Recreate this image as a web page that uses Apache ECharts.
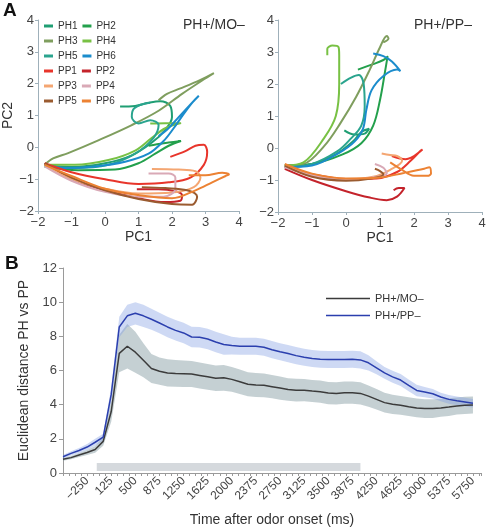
<!DOCTYPE html>
<html><head><meta charset="utf-8">
<script src="https://cdn.jsdelivr.net/npm/echarts@6/dist/echarts.min.js"></script>
<style>html,body{margin:0;padding:0;background:#fff}#c{width:490px;height:528px}</style>
</head><body><div id="c"></div>
<script>
// ---------- Panel A data (PC1, PC2 trajectories) ----------
const TRAJ_NAMES = ['PH1','PH2','PH3','PH4','PH5','PH6','PP1','PP2','PP3','PP4','PP5','PP6'];
const TRAJ_COLORS = ['#1f9e73','#23a04c','#7f9e5e','#78c144','#2aa48e','#1b8ccc','#e8352b','#c4232b','#f4a672','#d9a9b6','#9a5b30','#ec8233'];

// PH+/MO– panel
const MO_PH1 = [[-1.8,-0.55],[-1.0,-0.62],[0,-0.5],[0.8,-0.25],[1.4,0.15],[1.8,0.55],[2.0,0.95],[1.95,1.3],[1.65,1.45],[1.3,1.4],[0.9,1.3],[0.45,1.28]];
const MO_PH2 = [[-1.8,-0.6],[-0.8,-0.72],[0.3,-0.7],[1.0,-0.5],[1.5,-0.2],[1.9,0.05],[2.27,0.2],[1.9,0.15],[1.55,0.1],[1.3,0.05]];
const MO_PH3 = [[-1.8,-0.55],[-1.55,-0.35],[-1.1,-0.18],[-0.2,0.22],[0.8,0.7],[1.6,1.15],[2.3,1.68],[2.9,2.1],[3.25,2.33],[2.85,2.12],[2.25,1.85],[1.85,1.68],[1.6,1.48]];
const MO_PH4 = [[-1.8,-0.55],[-0.9,-0.55],[0.1,-0.4],[0.9,-0.1],[1.4,0.3],[1.8,0.6],[2.27,0.76],[1.8,0.76],[1.35,0.75]];
const MO_PH5 = [[-1.8,-0.6],[-0.9,-0.65],[0.1,-0.55],[0.9,-0.2],[1.45,0.3],[1.6,0.7],[1.35,0.85],[1.0,0.75],[0.8,0.95],[0.85,1.2],[1.1,1.35],[1.35,1.4]];
const MO_PH6 = [[-1.8,-0.55],[-1.2,-0.65],[-0.3,-0.6],[0.6,-0.45],[1.3,-0.2],[1.75,0.2],[2.05,0.6],[2.35,1.05],[2.6,1.4],[2.8,1.62],[2.6,1.4],[2.2,0.95],[1.85,0.55],[1.6,0.35]];
const MO_PP1 = [[-1.8,-0.5],[-1.0,-0.78],[0,-1.0],[1.0,-1.15],[1.9,-1.1],[2.55,-0.95],[2.95,-0.55],[3.05,-0.15],[2.95,0.08],[2.7,0.05],[2.4,-0.12],[1.95,-0.3]];
const MO_PP2 = [[-1.8,-0.5],[-1.0,-1.0],[0,-1.35],[1.0,-1.6],[1.8,-1.72],[2.25,-1.68],[2.3,-1.5],[2.1,-1.38],[1.6,-1.32],[0.95,-1.32]];
const MO_PP3 = [[-1.8,-0.55],[-1.0,-1.0],[0,-1.3],[1.0,-1.45],[2.0,-1.42],[2.65,-1.25],[2.85,-0.95],[2.7,-0.75],[2.2,-0.7],[1.4,-0.68]];
const MO_PP4 = [[-1.8,-0.6],[-1.0,-1.05],[0,-1.4],[1.0,-1.55],[1.75,-1.55],[2.1,-1.3],[2.1,-0.95],[1.9,-0.82],[1.3,-0.82]];
const MO_PP5 = [[-1.8,-0.5],[-1.0,-0.95],[0,-1.35],[1.0,-1.62],[2.0,-1.78],[2.6,-1.8],[2.75,-1.55],[2.45,-1.35],[1.8,-1.28],[1.1,-1.25]];
const MO_PP6 = [[-1.8,-0.55],[-1.0,-0.9],[0,-1.3],[1.0,-1.5],[2.0,-1.6],[2.7,-1.35],[3.2,-1.1],[3.6,-0.9],[3.7,-0.85],[3.5,-0.8],[3.0,-0.88],[2.5,-0.88]];

// PH+/PP– panel
const PP_PH1 = [[-1.8,-0.55],[-1.0,-0.5],[-0.3,-0.2],[0.2,0.2],[0.45,0.5],[0.68,0.6],[0.55,0.45],[0.25,0.42],[-0.05,0.55]];
const PP_PH2 = [[-1.8,-0.55],[-1.0,-0.5],[-0.1,-0.2],[0.45,0.15],[0.8,0.7],[1.0,1.5],[1.15,2.4],[1.22,2.85],[1.1,2.75],[0.8,2.62],[0.35,2.45]];
const PP_PH3 = [[-1.8,-0.55],[-1.25,-0.5],[-0.65,0.05],[-0.15,0.8],[0.3,1.6],[0.7,2.45],[1.0,3.15],[1.2,3.5],[1.25,3.42],[1.1,3.3]];
const PP_PH4 = [[-1.8,-0.55],[-1.25,-0.45],[-0.65,0.3],[-0.3,1.0],[-0.2,2.0],[-0.2,2.9],[-0.22,3.15],[-0.4,3.2],[-0.55,3.1],[-0.55,2.9]];
const PP_PH5 = [[-1.8,-0.6],[-1.0,-0.5],[-0.25,-0.1],[0.15,0.3],[0.45,0.7],[0.55,1.3],[0.52,2.0],[0.38,2.28],[0.15,2.2],[-0.15,2.0]];
const PP_PH6 = [[-1.8,-0.6],[-1.0,-0.55],[-0.2,-0.15],[0.25,0.2],[0.5,0.6],[0.6,1.2],[0.75,1.8],[1.1,2.25],[1.5,2.45],[1.6,2.4],[1.35,2.7],[1.1,2.87],[0.8,2.95]];
const PP_PP1 = [[-1.8,-0.6],[-1.0,-0.82],[0,-0.97],[0.9,-0.95],[1.5,-0.75],[1.9,-0.4],[2.2,-0.08],[2.25,-0.05],[2.0,-0.25],[1.75,-0.35],[1.35,-0.25]];
const PP_PP2 = [[-1.8,-0.65],[-1.0,-1.0],[0,-1.35],[0.7,-1.55],[1.2,-1.63],[1.5,-1.52],[1.72,-1.25],[1.55,-1.25],[1.4,-1.32]];
const PP_PP3 = [[-1.8,-0.55],[-1.0,-0.85],[0,-0.97],[0.8,-0.9],[1.3,-0.68],[1.65,-0.4],[1.5,-0.25],[1.3,-0.22],[1.05,-0.17]];
const PP_PP4 = [[-1.8,-0.6],[-1.0,-0.85],[0,-1.0],[0.8,-0.92],[1.2,-0.8],[1.1,-0.62],[0.85,-0.5]];
const PP_PP5 = [[-1.8,-0.55],[-1.0,-0.9],[0,-1.02],[0.75,-0.95],[1.1,-0.82],[1.0,-0.72],[0.85,-0.65]];
const PP_PP6 = [[-1.8,-0.5],[-1.0,-0.8],[0,-0.95],[1.0,-0.92],[1.7,-0.78],[2.3,-0.65],[2.45,-0.6],[2.5,-0.8],[2.4,-0.87],[2.0,-0.87],[1.6,-0.65],[1.3,-0.45]];

const MO_TRAJ = [MO_PH1,MO_PH2,MO_PH3,MO_PH4,MO_PH5,MO_PH6,MO_PP1,MO_PP2,MO_PP3,MO_PP4,MO_PP5,MO_PP6];
const PP_TRAJ = [PP_PH1,PP_PH2,PP_PH3,PP_PH4,PP_PH5,PP_PH6,PP_PP1,PP_PP2,PP_PP3,PP_PP4,PP_PP5,PP_PP6];

// ---------- Panel B data ----------
const TIME_MS = [-625,-500,-375,-250,-125,0,125,250,375,500,625,750,875,1000,1125,1250,1375,1500,1625,1750,1875,2000,2125,2250,2375,2500,2625,2750,2875,3000,3125,3250,3375,3500,3625,3750,3875,4000,4125,4250,4375,4500,4625,4750,4875,5000,5125,5250,5375,5500,5625,5750];
const MO_MEAN = [0.8,0.9,1.05,1.2,1.38,1.85,3.6,7.0,7.42,7.07,6.6,6.12,5.96,5.86,5.83,5.81,5.79,5.71,5.63,5.55,5.57,5.48,5.34,5.2,5.15,5.13,5.05,4.97,4.89,4.85,4.85,4.8,4.76,4.68,4.66,4.7,4.7,4.66,4.5,4.31,4.12,4.02,3.96,3.88,3.81,3.77,3.77,3.81,3.86,3.92,3.96,3.98];
const MO_ERR  = [0.08,0.1,0.12,0.15,0.2,0.25,0.6,1.1,1.3,1.2,1.0,0.85,0.8,0.8,0.78,0.78,0.76,0.76,0.75,0.75,0.75,0.72,0.72,0.7,0.7,0.7,0.68,0.68,0.66,0.66,0.65,0.65,0.65,0.65,0.65,0.65,0.65,0.65,0.62,0.6,0.58,0.56,0.55,0.55,0.55,0.55,0.55,0.52,0.52,0.5,0.5,0.5];
const PP_MEAN = [0.95,1.15,1.32,1.52,1.8,2.1,4.6,8.55,9.2,9.35,9.2,9.0,8.78,8.55,8.35,8.2,7.96,7.94,7.84,7.67,7.52,7.46,7.42,7.42,7.42,7.36,7.22,7.1,6.99,6.87,6.78,6.7,6.66,6.64,6.64,6.64,6.66,6.62,6.45,6.16,5.86,5.63,5.44,5.13,4.83,4.74,4.64,4.45,4.31,4.23,4.16,4.08];
const PP_ERR  = [0.1,0.12,0.15,0.18,0.2,0.2,0.4,0.6,0.65,0.65,0.65,0.62,0.6,0.6,0.6,0.6,0.6,0.6,0.6,0.6,0.6,0.52,0.5,0.5,0.5,0.5,0.5,0.5,0.5,0.5,0.5,0.5,0.5,0.5,0.5,0.5,0.5,0.5,0.45,0.38,0.35,0.35,0.35,0.35,0.33,0.3,0.28,0.25,0.25,0.25,0.25,0.25];
const X_TICK_LABELS = [-250,125,500,875,1250,1625,2000,2375,2750,3125,3500,3875,4250,4625,5000,5375,5750];
const ODOR_WINDOW = [-100, 4000];   // grey stimulus bar, ms
const ODOR_BAR_Y = [0.12, 0.58];

const FONT = 'Liberation Sans, Arial, sans-serif';
const minus = v => String(v).replace('-', '\u2212');

const chart = echarts.init(document.getElementById('c'), null, {renderer: 'canvas'});

function pcAxisX(idx) {
  return {
    type: 'value', gridIndex: idx, min: -2, max: 4, interval: 1,
    name: 'PC1', nameLocation: 'middle', nameGap: 16,
    nameTextStyle: {fontFamily: FONT, fontSize: 14, color: '#333'},
    axisLine: {onZero: false, lineStyle: {color: '#9fb0ba', width: 1}},
    axisTick: {show: true, length: 3, lineStyle: {color: '#9fb0ba'}},
    axisLabel: {fontFamily: FONT, fontSize: 13, color: '#444', margin: 5, formatter: minus},
    splitLine: {show: false}
  };
}
function pcAxisY(idx, withName) {
  return {
    type: 'value', gridIndex: idx, min: -2, max: 4, interval: 1,
    name: withName ? 'PC2' : '', nameLocation: 'middle', nameGap: 22, nameRotate: 90,
    nameTextStyle: {fontFamily: FONT, fontSize: 14, color: '#333'},
    axisLine: {show: true, onZero: false, lineStyle: {color: '#9fb0ba', width: 1}},
    axisTick: {show: true, length: 3, lineStyle: {color: '#9fb0ba'}},
    axisLabel: {fontFamily: FONT, fontSize: 13, color: '#444', margin: 4, formatter: minus},
    splitLine: {show: false}
  };
}

const series = [];
[MO_TRAJ, PP_TRAJ].forEach((set, gi) => {
  set.forEach((d, i) => {
    series.push({
      type: 'line', name: TRAJ_NAMES[i], xAxisIndex: gi, yAxisIndex: gi,
      data: d, smooth: 0.35, symbol: 'none', silent: true,
      lineStyle: {color: TRAJ_COLORS[i], width: 2}, itemStyle: {color: TRAJ_COLORS[i]},
      z: i < 6 ? 2 : 3
    });
  });
});

const pair = (arr) => TIME_MS.map((t, i) => [t, arr[i]]);

// band drawn as one polygon: upper edge forward, lower edge backward
function bandSeries(mean, err, color) {
  return {
    type: 'custom', xAxisIndex: 2, yAxisIndex: 2, silent: true, z: 1,
    data: [[TIME_MS[0], mean[0]]],
    renderItem: function (params, api) {
      const pts = [];
      for (let i = 0; i < TIME_MS.length; i++) pts.push(api.coord([TIME_MS[i], mean[i] + err[i]]));
      for (let i = TIME_MS.length - 1; i >= 0; i--) pts.push(api.coord([TIME_MS[i], mean[i] - err[i]]));
      return {type: 'polygon', shape: {points: pts}, style: {fill: color}};
    }
  };
}

series.push(
  bandSeries(MO_MEAN, MO_ERR, 'rgba(110,138,145,0.4)'),
  bandSeries(PP_MEAN, PP_ERR, 'rgba(125,155,225,0.38)'),
  {type: 'line', name: 'PH+/MO\u2013', xAxisIndex: 2, yAxisIndex: 2, data: pair(MO_MEAN),
   symbol: 'none', lineStyle: {color: '#3b3b3b', width: 1.5}, itemStyle: {color: '#3b3b3b'}, z: 3,
   markArea: {silent: true, itemStyle: {color: '#d5d9dd'},
     data: [[{xAxis: ODOR_WINDOW[0], yAxis: ODOR_BAR_Y[0]}, {xAxis: ODOR_WINDOW[1], yAxis: ODOR_BAR_Y[1]}]]}},
  {type: 'line', name: 'PH+/PP\u2013', xAxisIndex: 2, yAxisIndex: 2, data: pair(PP_MEAN),
   symbol: 'none', lineStyle: {color: '#2b3fae', width: 1.5}, itemStyle: {color: '#2b3fae'}, z: 4}
);

const option = {
  animation: false,
  backgroundColor: '#fff',
  textStyle: {fontFamily: FONT},
  grid: [
    {left: 38, top: 20, width: 201, height: 191},
    {left: 278, top: 20, width: 204, height: 192},
    {left: 63, top: 268, width: 418, height: 206}
  ],
  xAxis: [
    pcAxisX(0), pcAxisX(1),
    {type: 'value', gridIndex: 2, min: -625, max: 5875, interval: 375,
     name: 'Time after odor onset (ms)', nameLocation: 'middle', nameGap: 40,
     nameTextStyle: {fontFamily: FONT, fontSize: 14, color: '#333'},
     axisLine: {onZero: false, lineStyle: {color: '#9a9a9a'}},
     axisTick: {show: true, length: 3, lineStyle: {color: '#9a9a9a'}},
     minorTick: {show: true, splitNumber: 4, length: 3, lineStyle: {color: '#9a9a9a'}},
     axisLabel: {fontFamily: FONT, fontSize: 12, color: '#444', rotate: 45, margin: 6,
       showMinLabel: false, showMaxLabel: false,
       formatter: v => X_TICK_LABELS.indexOf(v) >= 0 ? minus(v) : ''},
     splitLine: {show: false}}
  ],
  yAxis: [
    pcAxisY(0, true), pcAxisY(1, false),
    {type: 'value', gridIndex: 2, min: 0, max: 12, interval: 2,
     name: 'Euclidean distance PH vs PP', nameLocation: 'middle', nameGap: 24, nameRotate: 90,
     nameTextStyle: {fontFamily: FONT, fontSize: 14, color: '#333'},
     axisLine: {show: true, onZero: false, lineStyle: {color: '#9a9a9a'}},
     axisTick: {show: true, length: 4, lineStyle: {color: '#9a9a9a'}},
     axisLabel: {fontFamily: FONT, fontSize: 13, color: '#444', margin: 6},
     splitLine: {show: false}}
  ],
  legend: [
    {data: TRAJ_NAMES, left: 44, top: 21, width: 80, orient: 'horizontal',
     icon: 'rect', itemWidth: 9, itemHeight: 3, itemGap: 5, itemTextGap: 3, padding: 0,
     textStyle: {fontFamily: FONT, fontSize: 10, color: '#333'}, selectedMode: false},
    {data: ['PH+/MO\u2013', 'PH+/PP\u2013'], left: 326, top: 293, orient: 'vertical',
     icon: 'rect', itemWidth: 44, itemHeight: 1.6, itemGap: 6, itemTextGap: 4, padding: 0,
     textStyle: {fontFamily: FONT, fontSize: 11, color: '#333'}, selectedMode: false}
  ],
  graphic: [
    {type: 'text', left: 3, top: 1, style: {text: 'A', font: 'bold 19px ' + FONT, fill: '#111'}},
    {type: 'text', left: 5, top: 254, style: {text: 'B', font: 'bold 19px ' + FONT, fill: '#111'}},
    {type: 'text', left: 183, top: 18, style: {text: 'PH+/MO\u2013', font: '14px ' + FONT, fill: '#333'}},
    {type: 'text', left: 414, top: 18, style: {text: 'PH+/PP\u2013', font: '14px ' + FONT, fill: '#333'}}
  ],
  series: series
};
chart.setOption(option);
</script>
</body></html>
